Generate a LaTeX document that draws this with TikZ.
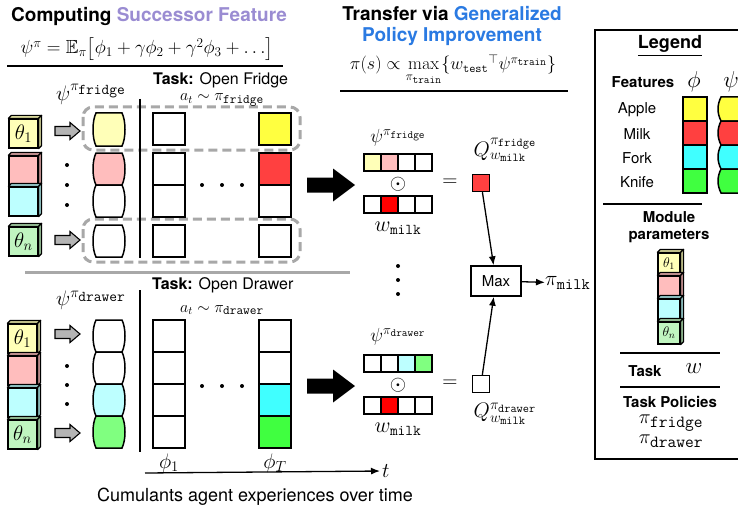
\RequirePackage{fix-cm}
\documentclass[tikz,border=0pt]{standalone}
\usepackage{amsmath}
\usepackage{amssymb}
\usepackage[no-math]{fontspec}
\setmainfont{TeX Gyre Heros}
\usepackage{tikz}
\usetikzlibrary{
  	positioning,
  	arrows.meta,
  	calc
  }
\definecolor{lyellow}{HTML}{FFFFB8}
\definecolor{lpink}{HTML}{FFBDBD}
\definecolor{lcyan}{HTML}{BDFFFF}
\definecolor{lgreen}{HTML}{C0F5C0}
\definecolor{mgreen}{HTML}{80FF80}
\definecolor{syellow}{HTML}{FFFF40}
\definecolor{sred}{HTML}{FF4040}
\definecolor{scyan}{HTML}{40FFFF}
\definecolor{sgreen}{HTML}{40FF40}
\definecolor{wred}{HTML}{FF0000}
\definecolor{sfpurple}{HTML}{9A8CD2}
\definecolor{gpiblue}{HTML}{2A7AE2}
\definecolor{dashgray}{HTML}{A8A8A8}
\definecolor{arrgray}{HTML}{B4B4B4}
\tikzstyle{ttl}=[font=\fontsize{19}{22}\selectfont\bfseries, inner sep=0pt]
\tikzstyle{txt}=[font=\fontsize{16}{19}\selectfont, inner sep=0pt]
\tikzstyle{lgd}=[font=\fontsize{15}{18}\selectfont, inner sep=0pt]
\tikzstyle{lgdb}=[font=\fontsize{15}{18}\selectfont\bfseries, inner sep=0pt]
\tikzstyle{mth}=[font=\fontsize{21}{24}\selectfont, inner sep=0pt]
\tikzstyle{smth}=[font=\fontsize{16}{19}\selectfont, inner sep=0pt]
\tikzstyle{rule}=[line width=2pt]
\tikzstyle{cell}=[draw, line width=1.7pt, minimum size=32pt, inner sep=0pt]
\tikzstyle{vcell}=[draw, line width=1.4pt, minimum size=17pt, inner sep=0pt]
\tikzstyle{lcell}=[draw, line width=1.5pt, minimum size=24pt, inner sep=0pt]
\tikzstyle{cubefront}=[draw, line width=1.2pt, inner sep=0pt, font=\fontsize{21}{22}\selectfont]
\tikzstyle{cubeside}=[draw, line width=1.2pt, line join=round]
\tikzstyle{dashbox}=[draw=dashgray, line width=3pt, dash pattern=on 9pt off 5pt, rounded corners=10pt]
\tikzstyle{qbox}=[draw, line width=1.4pt, minimum size=17pt, inner sep=0pt]
\tikzstyle{maxbox}=[draw, line width=1.4pt, minimum width=50pt, minimum height=30pt, inner sep=0pt, font=\fontsize{15}{18}\selectfont]
\tikzstyle{link}=[line width=1.3pt, -{Latex[length=9pt,width=7pt]}]
\newcommand\tts[2]{\text{\fontsize{#1}{#1}\selectfont\ttfamily #2}}
% cube: name, x, y (front top left), size, colour, label
\newcommand\modcube[6]{%
  \node[cubefront, fill=#5, minimum size=#4pt] at ({#2+#4/2},{#3+#4/2}) (#1) {#6};
  \draw[cubeside, fill=#5!85!black] (#1.north west) -- ++(3,-3) -- ([shift={(3,-3)}]#1.north east) -- (#1.north east) -- cycle;
  \draw[cubeside, fill=#5!72!black] (#1.north east) -- ++(3,-3) -- ([shift={(3,-3)}]#1.south east) -- (#1.south east) -- cycle;
}
% barrel: centre x, top, bottom, width, colour
\newcommand\barrel[5]{%
  \draw[line width=1.5pt, fill=#5] ({#1-#4/2+3},#2) -- ({#1+#4/2-3},#2)
    .. controls ({#1+#4/2+1},{#2+8}) and ({#1+#4/2+1},{#3-8}) .. ({#1+#4/2-3},#3)
    -- ({#1-#4/2+3},#3)
    .. controls ({#1-#4/2-1},{#3-8}) and ({#1-#4/2-1},{#2+8}) .. ({#1-#4/2+3},#2) -- cycle;
}
\newcommand\grayarrow[2]{\draw[line width=1.1pt, fill=arrgray, line join=miter, shift={(#1,#2)}]
  (0,-4.5) -- (15,-4.5) -- (15,-8.5) -- (25,0) -- (15,8.5) -- (15,4.5) -- (0,4.5) -- cycle;}
\newcommand\bigarrow[2]{\fill[shift={(#1,#2)}]
  (0,-7.5) -- (26,-7.5) -- (26,-16.5) -- (48,0) -- (26,16.5) -- (26,7.5) -- (0,7.5) -- cycle;}

\begin{document}
\begin{tikzpicture}[x=1pt, y=-1pt]
	\useasboundingbox (0,0) rectangle (738,508);
% successor features
	\node[ttl] at (149,16) (sftitle) {Computing \textcolor{sfpurple}{Successor Feature}};
	\node[font=\fontsize{19}{22}\selectfont, inner sep=0pt, anchor=base] at (147,54) (sfeq) {$\psi^{\pi} = \mathbb{E}_{\pi}\bigl[\phi_1 + \gamma\phi_2 + \gamma^2\phi_3 + \ldots\bigr]$};
	\draw[rule] (7,66) -- (283,66);
	\draw[dashbox] (83,107) rectangle (300,150);
	\draw[dashbox] (83,219) rectangle (300,262);
	\draw[line width=3pt, draw=dashgray] (25,272) -- (350,272);
	\node[txt, anchor=base west] at (153,85) (taskf) {\textbf{Task:} Open Fridge};
	\node[txt, anchor=base west] at (152,289) (taskd) {\textbf{Task:} Open Drawer};
	\node[mth] at (91,94) (psif) {$\psi^{\pi_{\tts{15}{fridge}}}$};
	\node[mth] at (91,300) (psid) {$\psi^{\pi_{\tts{15}{drawer}}}$};
	\node[smth] at (222,100) (actf) {$a_t \sim \pi_{\tts{13}{fridge}}$};
	\node[smth] at (222,310) (actd) {$a_t \sim \pi_{\tts{13}{drawer}}$};
	\draw[line width=2pt] (140,99) -- (140,258);
	\draw[line width=2pt] (140,290) -- (140,452);
%
	\modcube{ta1}{9}{119}{29}{lyellow}{$\theta_1$}
	\modcube{ta2}{9}{156}{29}{lpink}{}
	\modcube{ta3}{9}{187}{29}{lcyan}{}
	\modcube{ta4}{9}{227}{29}{lgreen}{$\theta_n$}
	\modcube{tb1}{8}{324}{29}{lyellow}{$\theta_1$}
	\modcube{tb2}{8}{356}{29}{lpink}{}
	\modcube{tb3}{8}{388}{29}{lcyan}{}
	\modcube{tb4}{8}{420}{29}{lgreen}{$\theta_n$}
	\grayarrow{55}{131}
	\grayarrow{55}{240}
	\grayarrow{55}{334}
	\grayarrow{55}{433}
	\foreach \yy in {165,185,205,366,385,404} {
		\fill (67,\yy) circle (2pt);
	}
	\foreach \xx in {202,222,242} {
		\fill (\xx,185) circle (2pt);
		\fill (\xx,386) circle (2pt);
	}
%
	\foreach \t/\b/\c in {113/146/lyellow, 153/185/lpink, 185/217/white, 225/257/white,
		320/352/white, 352/384/white, 384/416/lcyan, 416/448/mgreen} {
		\barrel{109}{\t}{\b}{32}{\c}
	}
	\foreach \r/\yy/\c in {1/129/syellow, 2/169/sred, 3/201/white, 4/241/white} {
		\node[cell] at (169,\yy) (fa\r) {};
		\node[cell, fill=\c] at (275,\yy) (fta\r) {};
	}
	\foreach \r/\yy/\c in {1/336/white, 2/368/white, 3/400/scyan, 4/432/sgreen} {
		\node[cell] at (169,\yy) (fb\r) {};
		\node[cell, fill=\c] at (275,\yy) (ftb\r) {};
	}
	\node[mth] at (169,463) (phi1) {$\phi_1$};
	\node[mth] at (275,463) (phiT) {$\phi_T$};
	\coordinate (t0) at (145,473);
	\node[mth, anchor=west] at (382,471) (tlab) {$t$};
	\draw[link, shorten >=2pt] (t0) -- (tlab.west);
	\node[font=\fontsize{18}{21}\selectfont, inner sep=0pt] at (255,497) (caption) {Cumulants agent experiences over time};
% generalized policy improvement
	\node[ttl] at (452,14) (gpititle) {Transfer via \textcolor{gpiblue}{Generalized}};
	\node[ttl, text=gpiblue] at (452,37) (gpititle2) {Policy Improvement};
	\node[font=\fontsize{18}{21}\selectfont, inner sep=0pt, anchor=base] at (453,70) (gpieq)
		{$\pi(s) \propto \max\limits_{\pi_{\tts{11}{train}}} \{ w_{\tts{12}{test}}{}^{\top} \psi^{\pi_{\tts{11}{train}}} \}$};
	\draw[rule] (340,91) -- (568,91);
	\bigarrow{307}{185}
	\bigarrow{307}{386}
%
	\node[font=\fontsize{19}{22}\selectfont, inner sep=0pt] at (398,138) (psivf) {$\psi^{\pi_{\tts{11}{fridge}}}$};
	\node[font=\fontsize{19}{22}\selectfont, inner sep=0pt] at (398,337) (psivd) {$\psi^{\pi_{\tts{11}{drawer}}}$};
	\foreach \i/\c/\d in {1/lyellow/white, 2/lpink/white, 3/white/lcyan, 4/white/mgreen} {
		\node[vcell, fill=\c] at ({355.5+17*\i},162.5) (vf\i) {};
		\node[vcell, fill=\d] at ({355.5+17*\i},363.5) (vd\i) {};
	}
	\foreach \i/\c in {1/white, 2/wred, 3/white, 4/white} {
		\node[vcell, fill=\c] at ({355.5+17*\i},204.5) (wf\i) {};
		\node[vcell, fill=\c] at ({355.5+17*\i},405.5) (wd\i) {};
	}
	\node[mth] at (398,184) (odf) {$\odot$};
	\node[mth] at (398,385) (odd) {$\odot$};
	\node[font=\fontsize{22}{24}\selectfont, inner sep=0pt] at (398,228) (wmf) {$w_{\tts{15}{milk}}$};
	\node[font=\fontsize{22}{24}\selectfont, inner sep=0pt] at (398,429) (wmd) {$w_{\tts{15}{milk}}$};
	\node[mth] at (450,183) (eqf) {$=$};
	\node[mth] at (450,384) (eqd) {$=$};
	\node[qbox, fill=sred] at (481,183) (qf) {};
	\node[qbox, fill=white] at (481,384) (qd) {};
	\node[mth] at (505,150) (qlf) {$Q^{\pi_{\tts{12}{fridge}}}_{w_{\tts{12}{milk}}}$};
	\node[mth] at (505,414) (qld) {$Q^{\pi_{\tts{12}{drawer}}}_{w_{\tts{12}{milk}}}$};
	\foreach \yy in {266,280,294} {
		\fill (398,\yy) circle (2pt);
	}
	\node[maxbox] at (496,281) (mx) {Max};
	\node[mth, anchor=west] at (545,283) (pim) {$\pi_{\tts{16}{milk}}$};
	\draw[link] (qf) -- (mx);
	\draw[link] (qd) -- (mx);
	\draw[link] (mx) -- (pim);
% legend
	\draw[line width=1.5pt] (595,30) rectangle (760,459);
	\node[font=\fontsize{18}{21}\selectfont\bfseries, inner sep=0pt] at (670,46) (lgtitle) {\underline{Legend}};
	\node[lgdb] at (643,82) (feat) {Features};
	\node[font=\fontsize{23}{25}\selectfont, inner sep=0pt] at (694,82) (lphi) {$\phi$};
	\node[font=\fontsize{23}{25}\selectfont, inner sep=0pt] at (731,82) (lpsi) {$\psi$};
	\foreach \r/\n/\c in {1/Apple/syellow, 2/Milk/sred, 3/Fork/scyan, 4/Knife/sgreen} {
		\node[lgd] at (637,{86+24*\r}) (item\r) {\n};
		\node[lcell, fill=\c] at (695,{85+24*\r}) (lphi\r) {};
		\barrel{730}{73+24*\r}{97+24*\r}{24}{\c}
	}
	\draw[line width=1.3pt] (603,204) -- (702,204);
	\node[lgdb] at (669,217) (modl) {Module};
	\node[lgdb] at (669,236) (modp) {parameters};
	\modcube{tl1}{658}{253}{22}{lyellow}{\fontsize{14}{14}\selectfont$\theta_1$}
	\modcube{tl2}{658}{276}{22}{lpink}{}
	\modcube{tl3}{658}{299}{22}{lcyan}{}
	\modcube{tl4}{658}{322}{22}{lgreen}{\fontsize{14}{14}\selectfont$\theta_n$}
	\draw[line width=1.3pt] (620,353) -- (720,353);
	\node[lgdb] at (645,371) (taskw) {Task};
	\node[font=\fontsize{23}{25}\selectfont, inner sep=0pt] at (694,369) (lw) {$w$};
	\draw[line width=1.3pt] (620,387) -- (720,387);
	\node[lgdb] at (670,402) (tpol) {Task Policies};
	\node[font=\fontsize{20}{22}\selectfont, inner sep=0pt] at (671,423) (lpf) {$\pi_{\tts{17}{fridge}}$};
	\node[font=\fontsize{20}{22}\selectfont, inner sep=0pt] at (671,441) (lpd) {$\pi_{\tts{17}{drawer}}$};
\end{tikzpicture}
\end{document}
